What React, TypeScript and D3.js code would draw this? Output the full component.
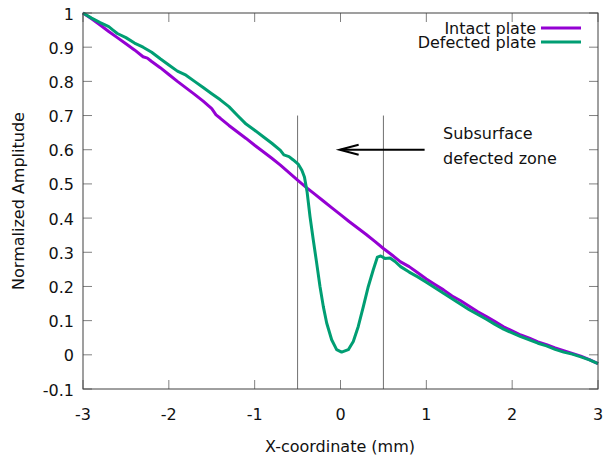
import React from "react";
import * as d3 from "d3";

const intactX = [-3.0, -2.9, -2.8, -2.7, -2.6, -2.5, -2.4, -2.3, -2.25, -2.2, -2.1, -2.0, -1.9, -1.8, -1.7, -1.6, -1.5, -1.45, -1.4, -1.3, -1.2, -1.1, -1.0, -0.9, -0.8, -0.7, -0.6, -0.5, -0.4, -0.3, -0.2, -0.1, 0.0, 0.1, 0.2, 0.3, 0.4, 0.5, 0.6, 0.7, 0.8, 0.9, 1.0, 1.1, 1.2, 1.3, 1.4, 1.5, 1.6, 1.7, 1.8, 1.9, 2.0, 2.1, 2.2, 2.3, 2.4, 2.5, 2.6, 2.7, 2.8, 2.9, 3.0];
const intactY = [1.0, 0.983, 0.965, 0.946, 0.928, 0.91, 0.892, 0.872, 0.868, 0.858, 0.84, 0.82, 0.8, 0.781, 0.762, 0.742, 0.72, 0.702, 0.692, 0.671, 0.652, 0.633, 0.613, 0.594, 0.575, 0.555, 0.533, 0.511, 0.49, 0.47, 0.45, 0.43, 0.41, 0.39, 0.371, 0.352, 0.332, 0.311, 0.292, 0.272, 0.258, 0.24, 0.222, 0.206, 0.19, 0.172, 0.158, 0.142, 0.126, 0.112, 0.097, 0.082, 0.07, 0.058, 0.049, 0.038, 0.03, 0.02, 0.012, 0.004, -0.004, -0.014, -0.026];

const defectX = [-3.0, -2.9, -2.8, -2.7, -2.65, -2.6, -2.5, -2.4, -2.3, -2.2, -2.1, -2.0, -1.9, -1.8, -1.7, -1.6, -1.5, -1.4, -1.3, -1.2, -1.1, -1.0, -0.9, -0.8, -0.7, -0.66, -0.6, -0.55, -0.49, -0.45, -0.42, -0.39, -0.355, -0.317, -0.278, -0.239, -0.2, -0.161, -0.103, -0.045, 0.013, 0.091, 0.149, 0.207, 0.266, 0.324, 0.382, 0.43, 0.468, 0.518, 0.577, 0.635, 0.7, 0.8, 0.9, 1.0, 1.1, 1.2, 1.3, 1.4, 1.5, 1.6, 1.7, 1.8, 1.9, 2.0, 2.1, 2.2, 2.3, 2.4, 2.5, 2.6, 2.7, 2.8, 2.9, 3.0];
const defectY = [1.0, 0.985, 0.972, 0.96, 0.95, 0.94, 0.928, 0.912, 0.9, 0.885, 0.866, 0.848, 0.83, 0.818, 0.8, 0.782, 0.764, 0.746, 0.726, 0.7, 0.675, 0.657, 0.638, 0.619, 0.598, 0.585, 0.58, 0.57, 0.557, 0.54, 0.52, 0.478, 0.404, 0.336, 0.269, 0.2, 0.141, 0.093, 0.044, 0.015, 0.008, 0.015, 0.039, 0.083, 0.141, 0.2, 0.249, 0.286, 0.289, 0.282, 0.283, 0.273, 0.258, 0.242, 0.228, 0.212, 0.196, 0.18, 0.164, 0.148, 0.132, 0.118, 0.104, 0.089, 0.075, 0.064, 0.053, 0.044, 0.034, 0.026, 0.016, 0.008, 0.002, -0.006, -0.015, -0.026];

const xTicks = [-3, -2, -1, 0, 1, 2, 3];
const yTicks = [-0.1, 0, 0.1, 0.2, 0.3, 0.4, 0.5, 0.6, 0.7, 0.8, 0.9, 1];
const zoneBounds = [-0.5, 0.5];
const seriesNames = ["Intact plate", "Defected plate"];
const annotationLines = ["Subsurface", "defected zone"];

const W = 606, H = 461;
const L = 83, R = 598, T = 13, B = 389;
const FONT = "'DejaVu Sans', Verdana, sans-serif";

export default function App() {
  const x = d3.scaleLinear().domain([-3, 3]).range([L, R]);
  const y = d3.scaleLinear().domain([-0.1, 1]).range([B, T]);
  const line = d3.line<[number, number]>().x(d => x(d[0])).y(d => y(d[1]));
  const intactPts = intactX.map((v, i) => [v, intactY[i]] as [number, number]);
  const defectPts = defectX.map((v, i) => [v, defectY[i]] as [number, number]);
  const tickLen = 9;
  const tickColor = "#808080";
  const borderColor = "#404040";
  const colors = ["#9400D3", "#009E73"];
  const arrowY = y(0.6);
  const arrowTip = x(-0.01);
  const arrowTail = x(0.98);
  return (
    <svg width={W} height={H} style={{ position: "absolute", left: 0, top: 0, background: "#fff" }} fontFamily={FONT}>
      <rect x={0} y={0} width={W} height={H} fill="#fff" />
      {xTicks.map(t => (
        <g key={"xt" + t}>
          <line x1={x(t)} x2={x(t)} y1={B} y2={B - tickLen} stroke={tickColor} />
          <line x1={x(t)} x2={x(t)} y1={T} y2={T + tickLen} stroke={tickColor} />
          <text x={x(t)} y={414} textAnchor="middle" dominantBaseline="central" fontSize={16} fill="#111">{t}</text>
        </g>
      ))}
      {yTicks.map(t => (
        <g key={"yt" + t}>
          <line x1={L} x2={L + tickLen} y1={y(t)} y2={y(t)} stroke={tickColor} />
          <line x1={R} x2={R - tickLen} y1={y(t)} y2={y(t)} stroke={tickColor} />
          <text x={74} y={y(t) + 1} textAnchor="end" dominantBaseline="central" fontSize={16} fill="#111">{String(+t.toFixed(1))}</text>
        </g>
      ))}
      {zoneBounds.map(b => (
        <line key={"z" + b} x1={x(b)} x2={x(b)} y1={y(0.7)} y2={B} stroke="#707070" strokeWidth={1} />
      ))}
      <path d={line(intactPts) || ""} fill="none" stroke={colors[0]} strokeWidth={3} strokeLinejoin="round" />
      <path d={line(defectPts) || ""} fill="none" stroke={colors[1]} strokeWidth={3} strokeLinejoin="round" />
      <rect x={L} y={T} width={R - L} height={B - T} fill="none" stroke={borderColor} strokeWidth={1} />
      {seriesNames.map((n, i) => (
        <g key={n}>
          <text x={536} y={28 + i * 14} textAnchor="end" dominantBaseline="central" fontSize={16} fill="#111">{n}</text>
          <line x1={541} x2={581} y1={28 + i * 14} y2={28 + i * 14} stroke={colors[i]} strokeWidth={3} />
        </g>
      ))}
      <line x1={arrowTail} x2={arrowTip + 1} y1={arrowY} y2={arrowY} stroke="#000" strokeWidth={2.2} />
      <path d={`M${arrowTip + 19},${arrowY - 5} L${arrowTip},${arrowY} L${arrowTip + 19},${arrowY + 5}`} fill="none" stroke="#000" strokeWidth={2} />
      {annotationLines.map((s, i) => (
        <text key={s} x={443} y={133 + i * 25} dominantBaseline="central" fontSize={16} fill="#111">{s}</text>
      ))}
      <text x={340} y={446} textAnchor="middle" dominantBaseline="central" fontSize={16} fill="#111">X-coordinate (mm)</text>
      <text transform={`translate(18,${(T + B) / 2}) rotate(-90)`} textAnchor="middle" dominantBaseline="central" fontSize={16} fill="#111">Normalized Amplitude</text>
    </svg>
  );
}
